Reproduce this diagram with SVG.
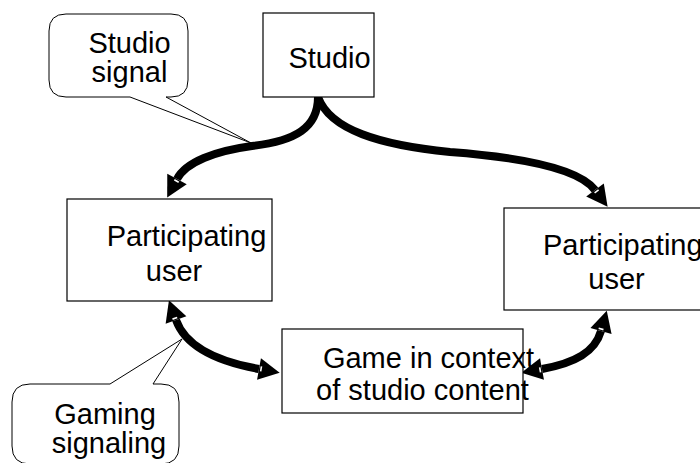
<svg xmlns="http://www.w3.org/2000/svg" width="700" height="463" viewBox="0 0 700 463">
  <style>
    .box { fill: #ffffff; stroke: #000000; stroke-width: 1.2; }
    .callout { fill: #ffffff; stroke: #000000; stroke-width: 1; stroke-linejoin: miter; }
    .label { font-family: "Liberation Sans", Arial, sans-serif; font-size: 29px; fill: #000000; }
    .mid { text-anchor: middle; }
    .flow { fill: none; stroke: #000000; stroke-width: 8; stroke-linecap: butt; }
  </style>
  <defs>
    <marker id="head" markerUnits="userSpaceOnUse" viewBox="0 -12 22 24" refX="0" refY="0"
            markerWidth="22" markerHeight="24" orient="auto-start-reverse" overflow="visible">
      <path d="M0,-11 L21,0 L0,11 Z" fill="#000000"/>
      <line x1="2" y1="-3" x2="2" y2="2" stroke="#ffffff" stroke-width="1.6"/>
    </marker>
  </defs>

  <rect width="700" height="463" fill="#ffffff"/>

  <!-- connectors -->
  <g id="connectors">
    <path class="flow" d="M318,97 C318,128 295,141 252,146 C215,151 186,162 177,179" marker-end="url(#head)"/>
    <path class="flow" d="M318,97 C330,130 380,145 450,152 C530,158 580,170 595,190" marker-end="url(#head)"/>
    <path class="flow" d="M176,320 C186,348 220,362 259,369" marker-start="url(#head)" marker-end="url(#head)"/>
    <path class="flow" d="M601,331 C595,352 575,363 542,369" marker-start="url(#head)" marker-end="url(#head)"/>
  </g>

  <!-- studio -->
  <g id="studio">
    <rect class="box" x="263" y="13" width="111" height="84"/>
    <text class="label mid" x="329.5" y="68">Studio</text>
  </g>

  <!-- left participating user -->
  <g id="user-left">
    <rect class="box" x="67" y="199" width="205" height="102"/>
    <text class="label mid" x="186.5" y="246">Participating</text>
    <text class="label mid" x="174" y="281">user</text>
  </g>

  <!-- right participating user -->
  <g id="user-right">
    <rect class="box" x="504" y="208" width="200" height="102"/>
    <text class="label" x="543" y="255">Participating</text>
    <text class="label mid" x="616.5" y="289">user</text>
  </g>

  <!-- game -->
  <g id="game">
    <rect class="box" x="282" y="329" width="241" height="84"/>
    <text class="label mid" x="428.5" y="368">Game in context</text>
    <text class="label mid" x="422.5" y="400">of studio content</text>
  </g>

  <!-- callout: studio signal -->
  <g id="callout-studio-signal">
    <path class="callout" d="M66,14 H171 Q188,14 188,31 V80 Q188,97 171,97 H166 L251,143 L130,97 H66 Q49,97 49,80 V31 Q49,14 66,14 Z"/>
    <text class="label mid" x="129.5" y="53">Studio</text>
    <text class="label mid" x="129.5" y="82">signal</text>
  </g>

  <!-- callout: gaming signaling -->
  <g id="callout-gaming-signaling">
    <path class="callout" d="M30,384 H110 L182,339 L153,384 H161 Q179,384 179,402 V446 Q179,464 161,464 H30 Q12,464 12,446 V402 Q12,384 30,384 Z"/>
    <text class="label mid" x="105" y="424">Gaming</text>
    <text class="label mid" x="109" y="453">signaling</text>
  </g>
</svg>
